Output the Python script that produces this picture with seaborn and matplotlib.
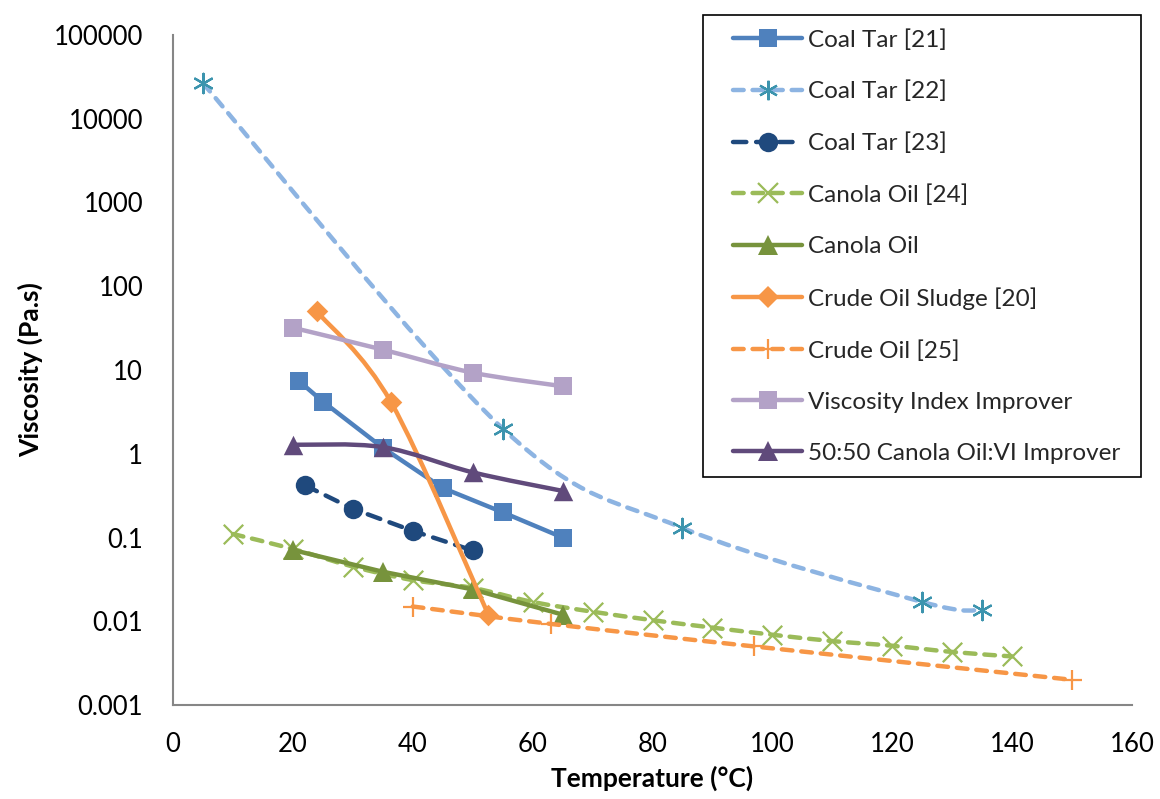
import numpy as np
import matplotlib
matplotlib.use("Agg")
import matplotlib.pyplot as plt
from matplotlib.path import Path
from matplotlib.patches import PathPatch, Rectangle
from matplotlib.lines import Line2D
import seaborn as sns

# values
temp_ct21 = [21, 25, 35, 45, 55, 65]
visc_ct21 = [7.4, 4.2, 1.18, 0.39, 0.2, 0.1]

temp_ct22 = [5, 55, 85, 125, 135]
visc_ct22 = [26500, 2.0, 0.13, 0.017, 0.0136]

temp_ct23 = [22, 30, 40, 50]
visc_ct23 = [0.42, 0.22, 0.12, 0.07]

temp_co24 = [10, 20, 30, 40, 50, 60, 70, 80, 90, 100, 110, 120, 130, 140]
visc_co24 = [0.11, 0.073, 0.045, 0.031, 0.025, 0.017, 0.013, 0.0103,
             0.0084, 0.0069, 0.0058, 0.0051, 0.0043, 0.0038]

temp_co = [20, 35, 50, 65]
visc_co = [0.071, 0.039, 0.024, 0.012]

temp_sludge = [24, 36.4, 52.6]
visc_sludge = [50, 4.1, 0.012]

temp_crude = [40, 63, 97, 150]
visc_crude = [0.015, 0.0093, 0.005, 0.002]

temp_vii = [20, 35, 50, 65]
visc_vii = [32, 17.5, 9.3, 6.4]

temp_blend = [20, 35, 50, 65]
visc_blend = [1.28, 1.2, 0.6, 0.36]

labels = ["Coal Tar [21]", "Coal Tar [22]", "Coal Tar [23]", "Canola Oil [24]",
          "Canola Oil", "Crude Oil Sludge [20]", "Crude Oil [25]",
          "Viscosity Index Improver", "50:50 Canola Oil:VI Improver"]

y_ticks = [0.001, 0.01, 0.1, 1, 10, 100, 1000, 10000, 100000]
y_ticklabels = ["0.001", "0.01", "0.1", "1", "10", "100", "1000", "10000", "100000"]

sns.set_theme(style="white")
plt.rcParams["font.family"] = ["Lato", "DejaVu Sans"]
FS = 18.5
LEG_FS = 17.5

ASTER = (6, 2, 0)
DASH = (0, (2.4, 2.0))
LONGDASH = (0, (3.0, 2.2))
LW = 3.2

# series: x, y, label, line colour, marker colour, marker, size, linestyle, smooth
series = [
    (temp_ct21, visc_ct21, labels[0], "#4F81BD", "#4F81BD", "s", 13, "-", False),
    (temp_ct22, visc_ct22, labels[1], "#8DB4E2", "#3C94AE", ASTER, 14, DASH, True),
    (temp_ct23, visc_ct23, labels[2], "#1F497D", "#1F497D", "o", 14, LONGDASH, False),
    (temp_co24, visc_co24, labels[3], "#9BBB59", "#9BBB59", "x", 14, DASH, True),
    (temp_co, visc_co, labels[4], "#77933C", "#77933C", "^", 14, "-", False),
    (temp_sludge, visc_sludge, labels[5], "#F79646", "#F79646", "D", 11, "-", True),
    (temp_crude, visc_crude, labels[6], "#F79646", "#F79646", "+", 14, DASH, True),
    (temp_vii, visc_vii, labels[7], "#B3A2C7", "#B3A2C7", "s", 13, "-", True),
    (temp_blend, visc_blend, labels[8], "#604A7B", "#604A7B", "^", 14, "-", True),
]


def smooth_path(x, y):
    # Excel style smoothing: Catmull-Rom bezier in (x, log10 y) space
    pts = np.column_stack([np.asarray(x, float), np.log10(y)])
    n = len(pts)
    verts = [pts[0]]
    codes = [Path.MOVETO]
    for i in range(n - 1):
        p0 = pts[max(i - 1, 0)]
        p1 = pts[i]
        p2 = pts[i + 1]
        p3 = pts[min(i + 2, n - 1)]
        verts += [p1 + (p2 - p0) / 6, p2 - (p3 - p1) / 6, p2]
        codes += [Path.CURVE4] * 3
    verts = np.array(verts)
    verts[:, 1] = 10 ** verts[:, 1]
    return Path(verts, codes)


fig = plt.figure(figsize=(11.6, 7.99), dpi=100)
ax = fig.add_axes([173 / 1160, 94 / 799, 959 / 1160, 670 / 799])
ax.set_yscale("log")
ax.set_xlim(0, 160)
ax.set_ylim(0.001, 100000)

handles = []
for k, (x, y, lab, lc, mc, mk, ms, ls, smooth) in enumerate(series):
    z = 3 + k
    unfilled = mk in ("x", "+", ASTER)
    mew = 1.6 if unfilled else 0
    if smooth:
        ax.add_patch(PathPatch(smooth_path(x, y), fill=False, edgecolor=lc, lw=LW,
                               linestyle=ls, capstyle="round", zorder=z))
        sns.scatterplot(x=x, y=y, ax=ax, marker=mk, color=mc, s=ms ** 2,
                        linewidth=mew if unfilled else 0, zorder=z + 0.5, legend=False)
    else:
        sns.lineplot(x=x, y=y, ax=ax, color=lc, lw=LW, linestyle=ls, marker=mk,
                     markersize=ms, markerfacecolor=mc, markeredgecolor=mc,
                     markeredgewidth=mew, dash_capstyle="round", zorder=z,
                     legend=False)
    handles.append(Line2D([], [], color=lc, lw=LW, linestyle=ls, marker=mk,
                          markersize=ms, markerfacecolor=mc, markeredgecolor=mc,
                          markeredgewidth=mew, dash_capstyle="round"))

ax.set_xticks(range(0, 161, 20))
ax.set_yticks(y_ticks)
ax.set_yticklabels(y_ticklabels)
ax.yaxis.set_minor_locator(matplotlib.ticker.NullLocator())
ax.tick_params(axis="both", labelsize=FS, colors="#868686", labelcolor="black",
               width=1.5, length=7.5)
ax.tick_params(axis="y", pad=14)
ax.tick_params(axis="x", pad=12)
for side in ["top", "right"]:
    ax.spines[side].set_visible(False)
for side in ["left", "bottom"]:
    ax.spines[side].set_color("#868686")
    ax.spines[side].set_linewidth(1.5)

ax.set_xlabel("Temperature (°C)", fontsize=FS + 0.5, fontweight="bold", color="black")
ax.set_ylabel("Viscosity (Pa.s)", fontsize=FS + 0.5, fontweight="bold", color="black")
ax.xaxis.set_label_coords(0.5, -0.09)
ax.yaxis.set_label_coords(-0.135, 0.5)

# legend box, drawn separately so the padding matches
fig.patches.append(Rectangle((703 / 1160, 1 - 477 / 799), 438 / 1160, 462 / 799,
                             transform=fig.transFigure, fill=False,
                             edgecolor="black", lw=1.2, zorder=20))
fig.legend(handles, labels, loc="upper left", bbox_to_anchor=(733 / 1160, 1 - 29 / 799),
           frameon=False, fontsize=LEG_FS, borderpad=0, borderaxespad=0,
           handlelength=2.85, handletextpad=0.25, labelspacing=1.24)

fig.savefig("out.png", dpi=100, facecolor="white")
